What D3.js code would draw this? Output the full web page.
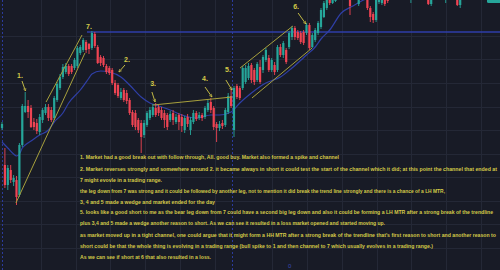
<!DOCTYPE html>
<html>
<head>
<meta charset="utf-8">
<script src="https://cdn.jsdelivr.net/npm/d3@7"></script>
<style>
  html, body { margin: 0; padding: 0; background: #181b26; overflow: hidden; }
</style>
</head>
<body>
<div id="chart"></div>
<script>
// one entry per bar, null where the bar sits above the visible price range
var opens = [172,135,115,130,118,120,105,155,188,194, 192,178,177,168,180,187,193,190,182,200,
  212,223,228,234,234,232,234,247,250,258, 256,252,266,253,243,242,234,232,230,217,
  215,202,210,207,200,188,187,180,177,165, 175,182,185,192,193,190,187,185,180,187,
  178,185,183,170,183,170,178,187,182,185, 183,190,198,192,176,172,177,175,188,204,
  170,214,212,212,218,222,235,230,220,233, 230,240,242,230,235,230,253,245,250,253,
  263,272,268,267,268,267,275,253,260,267, 273,283,292,302,297,299,null,null,null,null,
  303,null,null,296,null,null,302,292,286,280, 298,297,302,303,null,null,null,null,null,null,
  null,300,null,null,null,null,null,302,296,null, null,null,null,301,null,null,null,302,295,null];
var highs = [178,152,135,135,125,124,157,196,208,200, 195,182,181,186,192,196,196,193,204,218,
  226,236,237,236,236,242,254,255,262,260, 257,269,268,255,245,244,236,234,232,220,
  217,212,212,210,202,190,190,182,180,180, 189,193,196,197,195,193,190,187,189,190,
  186,187,186,184,186,183,190,189,188,187, 194,200,202,194,178,179,180,192,207,211,
  214,216,214,234,235,237,237,232,238,240, 245,252,245,242,238,255,256,259,252,269,
  274,274,270,269,270,277,277,267,272,279, 292,299,304,305,306,308,null,null,null,null,
  306,null,null,305,null,null,304,294,288,303, 305,304,304,306,null,null,null,null,null,null,
  null,308,null,null,null,null,null,305,306,null, null,null,null,309,null,null,null,305,306,null];
var lows = [170,112,110,117,114,95,103,153,187,182, 172,170,166,165,177,185,179,178,180,198,
  210,221,226,224,226,230,232,245,248,247, 246,250,252,236,234,233,226,225,215,205,
  202,200,198,196,185,173,170,167,147,162, 173,180,183,183,184,180,172,170,178,175,
  176,170,168,167,173,165,176,179,180,179, 181,188,187,170,158,169,171,173,186,192,
  163,201,200,210,216,220,217,215,218,216, 227,238,228,228,225,228,243,242,236,251,
  260,260,260,256,255,265,250,252,258,265, 271,282,290,295,296,298,null,null,null,null,
  285,null,null,294,null,null,290,278,277,278, 296,295,294,297,null,null,null,null,null,null,
  null,297,null,null,null,null,null,295,294,null, null,null,null,297,null,null,null,294,292,null];
var closes = [176,115,132,120,122,103,155,194,194,188, 173,173,169,183,190,193,182,180,202,216,
  223,233,234,226,228,240,252,253,260,250, 251,267,254,237,237,235,228,227,217,207,
  204,208,200,199,187,175,173,170,163,177, 187,190,193,185,187,182,180,173,186,180,
  183,178,174,182,176,180,187,181,185,182, 192,197,190,173,172,176,174,190,204,194,
  212,203,202,232,232,234,220,218,236,218, 243,250,230,240,228,253,245,257,238,267,
  272,263,262,258,257,275,252,265,270,277, 290,297,302,297,303,305,null,null,null,null,
  294,null,null,303,null,null,292,283,280,300, 303,302,296,299,null,null,null,null,null,null,
  null,306,null,null,null,null,null,296,303,null, null,null,null,307,null,null,null,295,303,null];

// moving average
var maBars   = [0,2,4,5,6,7,8,10,13,16,18,21,23,27,30,31,34,37,41,44,48,51,54,58,62,67,72,75,79,82,86,91,96,100,105,108,110,113,117,121,124,127];
var maValues = [158,152,146,144,146,152,155,159,165,170,178,187,197,210,222,226,229,228,223,215,203,197,194,190,185,182,185,185,188,197,207,217,223,232,245,253,261,270,287,294,299,303];

var sessionBars = [-0.1, 79.3];
var gridBars = [13.4, 25.4, 37.4, 49.4, 61.4, 73.4, 93.2, 105.2, 117.2, 129.2, 141.2, 153.2, 165.2];
var levelPrice = 268, levelStartBar = 29.3;

// trend lines: [bar, price] start and end
var trendStart = [[15.2, 198], [4.8, 97], [52.1, 195], [82.1, 232], [86.2, 202]];
var trendEnd   = [[27.6, 265], [28.6, 247], [79.3, 203], [100.3, 274], [106.9, 252]];

var labels      = ["1.", "7.", "2.", "3.", "4.", "5.", "6."];
var labelBars   = [6.2, 30, 43.1, 52.1, 70, 77.9, 101.4];
var labelPrices = [224, 273, 240, 216, 221, 230, 293];
var arrowStart  = [[6.9, 219], null, [42.4, 235], [51.7, 208], [70, 213], [77.2, 220], [102.1, 287]];
var arrowEnd    = [[8.1, 209], null, [40.3, 228], [52.8, 198], [72.4, 203], [79.3, 210], [104.8, 276]];

var notes = [
  "1. Market had a good break out with follow through, All. good buy. Market also formed a spike and channel",
  "2. Market reverses strongly and somewhere around 2. it became always in short it could test the start of the channel which it did; at this point the channel  that ended at",
  "7 might evovle in a trading range.",
  "the leg down from 7 was strong and it could be followed by another leg, not to mention it did break the trend line strongly and there is a chance of a LH MTR,",
  "3, 4 and 5 made a wedge and market ended for the day",
  "5. looks like a good short to me as the bear leg down from 7 could have a second big leg down and also it could be forming a LH MTR after a strong break of the trendline",
  "plus 3,4 and 5 made a wedge another reason to short. As we can see it resulted in a loss market opened and started moving up.",
  "as market moved up in a tight channel, one could argue that it might form a HH MTR after a strong break of the trendline that's first reason to short and another reason to",
  "short could be that the whole thing is evolving in a trading range (bull spike to 1 and then channel to 7 which usually evolves in a trading range.)",
  "As we can see if short at 6 that also resulted in a loss."
];

var W = 500, H = 270;
var upColor = "#26a69a", downColor = "#ef4453";
var noteColor = "#d4ca48";

var svg = d3.select("#chart").append("svg")
    .attr("width", W)
    .attr("height", H);

svg.append("rect").attr("width", W).attr("height", H).attr("fill", "#181b26");

var x = d3.scaleLinear().domain([0, 170]).range([2, 2 + 2.9 * 170]);
var y = d3.scaleLinear().domain([30, 300]).range([270, 0]);

// grid
var grid = svg.append("g").attr("stroke", "#242836").attr("stroke-width", 1);
grid.selectAll("line.h")
    .data(d3.range(264, 30, -23.5))
  .enter().append("line")
    .attr("x1", 0).attr("x2", W)
    .attr("y1", function(d) { return Math.round(y(d)) + 0.5; })
    .attr("y2", function(d) { return Math.round(y(d)) + 0.5; });
grid.selectAll("line.v")
    .data(gridBars)
  .enter().append("line")
    .attr("y1", 0).attr("y2", H)
    .attr("x1", function(d) { return Math.round(x(d)) + 0.5; })
    .attr("x2", function(d) { return Math.round(x(d)) + 0.5; });

// session breaks
svg.append("g").selectAll("line")
    .data(sessionBars)
  .enter().append("line")
    .attr("x1", function(d) { return Math.round(x(d)) + 0.5; })
    .attr("x2", function(d) { return Math.round(x(d)) + 0.5; })
    .attr("y1", 0).attr("y2", H)
    .attr("stroke", "#2b3b9c")
    .attr("stroke-width", 1)
    .attr("stroke-dasharray", "2,2");

// level of 7
svg.append("line")
    .attr("x1", x(levelStartBar)).attr("x2", W)
    .attr("y1", y(levelPrice)).attr("y2", y(levelPrice))
    .attr("stroke", "#2e3ea8")
    .attr("stroke-width", 1.3);

// moving average
var maLine = d3.line()
    .x(function(d) { return x(d[0]); })
    .y(function(d) { return y(d[1]); })
    .curve(d3.curveMonotoneX);
svg.append("path")
    .datum(d3.zip(maBars, maValues))
    .attr("d", maLine)
    .attr("fill", "none")
    .attr("stroke", "#2f3fa6")
    .attr("stroke-width", 1.2);

// candles
var bars = opens.map(function(o, i) {
    return { i: i, o: o, h: highs[i], l: lows[i], c: closes[i] };
}).filter(function(d) { return d.o != null; });

var candle = svg.append("g").selectAll("g")
    .data(bars)
  .enter().append("g")
    .attr("fill", function(d) { return d.c >= d.o ? upColor : downColor; })
    .attr("stroke", function(d) { return d.c >= d.o ? upColor : downColor; });

candle.append("line")
    .attr("x1", function(d) { return x(d.i); })
    .attr("x2", function(d) { return x(d.i); })
    .attr("y1", function(d) { return y(d.h); })
    .attr("y2", function(d) { return y(d.l); })
    .attr("stroke-width", 0.9);

candle.append("rect")
    .attr("stroke", "none")
    .attr("x", function(d) { return x(d.i) - 1.1; })
    .attr("width", 2.2)
    .attr("y", function(d) { return y(Math.max(d.o, d.c)); })
    .attr("height", function(d) { return Math.max(0.8, Math.abs(y(d.o) - y(d.c))); });

// trend lines
svg.append("g").selectAll("line")
    .data(d3.zip(trendStart, trendEnd))
  .enter().append("line")
    .attr("x1", function(d) { return x(d[0][0]); })
    .attr("y1", function(d) { return y(d[0][1]); })
    .attr("x2", function(d) { return x(d[1][0]); })
    .attr("y2", function(d) { return y(d[1][1]); })
    .attr("stroke", "#a7a03c")
    .attr("stroke-width", 1);

// arrows
svg.append("defs").append("marker")
    .attr("id", "head")
    .attr("viewBox", "0 0 10 10")
    .attr("refX", 9).attr("refY", 5)
    .attr("markerWidth", 4).attr("markerHeight", 4)
    .attr("orient", "auto")
  .append("path")
    .attr("d", "M1,1L9,5L1,9")
    .attr("fill", "none")
    .attr("stroke", noteColor)
    .attr("stroke-width", 1.5);

svg.append("g").selectAll("line")
    .data(d3.zip(arrowStart, arrowEnd).filter(function(d) { return d[0]; }))
  .enter().append("line")
    .attr("x1", function(d) { return x(d[0][0]); })
    .attr("y1", function(d) { return y(d[0][1]); })
    .attr("x2", function(d) { return x(d[1][0]); })
    .attr("y2", function(d) { return y(d[1][1]); })
    .attr("stroke", noteColor)
    .attr("stroke-width", 0.9)
    .attr("marker-end", "url(#head)");

svg.append("g").selectAll("text")
    .data(labels)
  .enter().append("text")
    .attr("x", function(d, i) { return x(labelBars[i]); })
    .attr("y", function(d, i) { return y(labelPrices[i]); })
    .attr("dy", "0.35em")
    .attr("text-anchor", "middle")
    .attr("fill", noteColor)
    .attr("font-family", "'Liberation Sans', Arial, sans-serif")
    .attr("font-weight", "bold")
    .attr("font-size", 7)
    .text(function(d) { return d; });

// price tag peeking in at the top right
svg.append("rect")
    .attr("x", 487).attr("y", -6)
    .attr("width", 14).attr("height", 9)
    .attr("rx", 1.5)
    .attr("fill", upColor);

svg.append("text")
    .attr("x", 288).attr("y", 268)
    .attr("fill", "#3848b0")
    .attr("font-family", "'Liberation Sans', Arial, sans-serif")
    .attr("font-size", 6)
    .text("0");

// notes, each fitted to the width it takes in the screenshot
var noteY = [157, 169, 180, 191, 202, 212.5, 223.5, 235, 246, 257];
var noteEnd = [339, 497, 162, 445, 215, 493, 385, 496, 433, 211];
svg.append("g")
    .attr("fill", noteColor)
    .attr("font-family", "'Liberation Sans', Arial, sans-serif")
    .attr("font-weight", "bold")
    .attr("font-size", 5.2)
  .selectAll("text")
    .data(notes)
  .enter().append("text")
    .attr("x", 80)
    .attr("y", function(d, i) { return noteY[i]; })
    .attr("dy", "0.35em")
    .attr("textLength", function(d, i) { return noteEnd[i] - 80; })
    .attr("lengthAdjust", "spacingAndGlyphs")
    .text(function(d) { return d; });
</script>
</body>
</html>
